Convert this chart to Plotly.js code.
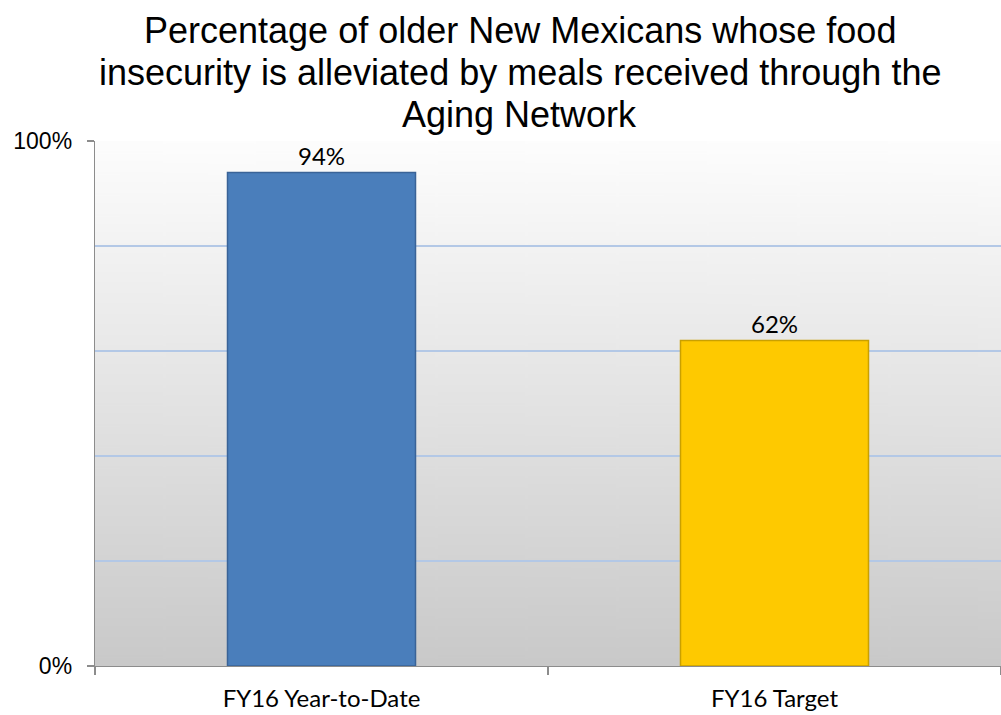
<!DOCTYPE html>
<html>
<head>
<meta charset="utf-8">
<script src="https://cdn.plot.ly/plotly-3.0.1.min.js"></script>
<style>html,body{margin:0;padding:0;background:#fff;}#chart{width:1001px;height:715px;}</style>
</head>
<body>
<div id="chart"></div>
<script>
const categories = ["FY16 Year-to-Date", "FY16 Target"];
const values = [0.94, 0.62];
const barColors = ["#4a7ebb", "#fec900"];
const barEdges = ["#3a6397", "#c9a000"];
const titleLines = [
  "Percentage of older New Mexicans whose food",
  "insecurity is alleviated by meals received through the",
  "Aging Network"
];
const titleLineY = [1.21, 1.13, 1.05];

// background gradient for plot area
const cv = document.createElement("canvas");
cv.width = 20; cv.height = 400;
const ctx = cv.getContext("2d");
const g = ctx.createLinearGradient(0, 0, 0, 400);
g.addColorStop(0, "#fdfdfd");
g.addColorStop(1, "#c9c9c9");
ctx.fillStyle = g;
ctx.fillRect(0, 0, 20, 400);
const bgURL = cv.toDataURL();

const labelFont = "Lato, Noto Sans, sans-serif";

const trace = {
  type: "bar",
  x: categories,
  y: values,
  width: 0.415,
  marker: { color: barColors, line: { color: barEdges, width: 1.5 } },
  text: values.map(v => Math.round(v * 100) + "%"),
  textposition: "outside",
  cliponaxis: false,
  textfont: { family: labelFont, size: 24, color: "#000" },
  hoverinfo: "skip"
};

const layout = {
  width: 1001, height: 715,
  margin: { l: 95, r: 0, t: 141, b: 49 },
  paper_bgcolor: "#ffffff",
  plot_bgcolor: "rgba(0,0,0,0)",
  showlegend: false,
  bargap: 0.585,
  annotations: titleLines.map((t, i) => ({
    text: t, showarrow: false,
    xref: "paper", yref: "paper", x: 0.469, y: titleLineY[i],
    xanchor: "center", yanchor: "middle",
    font: { family: "Liberation Sans, Arial, sans-serif", size: 36, color: "#000" }
  })),
  images: [{
    source: bgURL, xref: "paper", yref: "paper", x: 0, y: 1,
    sizex: 1, sizey: 1, sizing: "stretch", layer: "below", xanchor: "left", yanchor: "top"
  }],
  xaxis: {
    type: "category",
    showline: true, linecolor: "#8c8c8c", linewidth: 1.3,
    ticks: "outside", tickson: "boundaries", ticklen: 8, tickcolor: "#8c8c8c", tickwidth: 1.3,
    showgrid: false,
    tickfont: { family: labelFont, size: 24, color: "#000" },
    ticklabelstandoff: 11,
    fixedrange: true
  },
  yaxis: {
    range: [0, 1],
    tickvals: [0, 1],
    tickformat: ".0%",
    showline: true, linecolor: "#8c8c8c", linewidth: 1.3,
    ticks: "outside", ticklen: 7, tickcolor: "#8c8c8c", tickwidth: 1.3,
    showgrid: true, gridcolor: "#8c8c8c", gridwidth: 1.3,
    zeroline: false,
    minor: { tickvals: [0.2, 0.4, 0.6, 0.8], showgrid: true, gridcolor: "#b3c8e6", gridwidth: 1.6, ticks: "" },
    tickfont: { family: "Liberation Sans, Arial, sans-serif", size: 23, color: "#000" },
    ticklabelstandoff: 10,
    fixedrange: true
  }
};

Plotly.newPlot("chart", [trace], layout, { displayModeBar: false, staticPlot: true });
</script>
</body>
</html>
